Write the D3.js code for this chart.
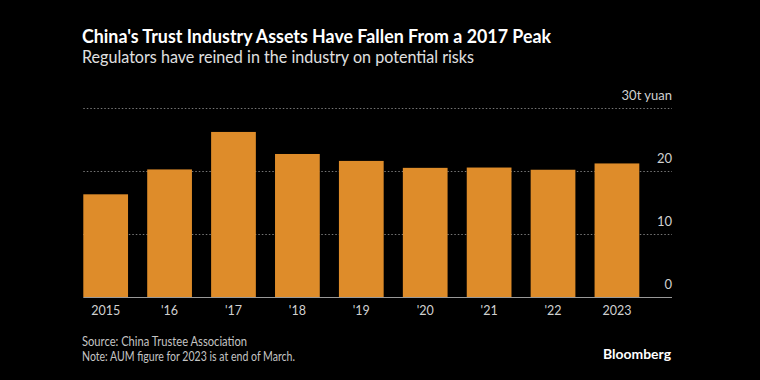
<!DOCTYPE html>
<html><head><meta charset="utf-8">
<script src="https://cdn.jsdelivr.net/npm/d3@7"></script>
<style>
html,body{margin:0;padding:0;background:#000;}
svg{display:block;}
text{font-family:Lato,"Open Sans",sans-serif;}
</style></head>
<body>
<svg id="chart" width="760" height="380"></svg>
<script>
const categories = ["2015","'16","'17","'18","'19","'20","'21","'22","2023"];
const values = [16.3, 20.25, 26.2, 22.7, 21.6, 20.5, 20.55, 20.2, 21.2];
const yTicks = [0, 10, 20, 30];
const yTickLabels = ["0", "10", "20", "30t yuan"];

const svg = d3.select("#chart");
svg.append("rect").attr("width",760).attr("height",380).attr("fill","#000");

const left = 83.3, right = 639.3, gridRight = 672;
const x = d3.scaleBand().domain(categories).range([left, right]).paddingInner(0.3).paddingOuter(0);
const y = d3.scaleLinear().domain([0, 30]).range([297, 108]);

// title
svg.append("text").attr("x",82).attr("y",43).attr("fill","#fff")
  .attr("font-size",18).attr("font-weight",700)
  .attr("textLength",469).attr("lengthAdjust","spacingAndGlyphs")
  .text("China's Trust Industry Assets Have Fallen From a 2017 Peak");
svg.append("text").attr("x",82).attr("y",63).attr("fill","#e0e0e0")
  .attr("font-size",16.5)
  .attr("textLength",392).attr("lengthAdjust","spacingAndGlyphs")
  .text("Regulators have reined in the industry on potential risks");

// gridlines
const grid = svg.append("g");
grid.selectAll("line").data(yTicks.filter(d=>d>0)).join("line")
  .attr("x1",left).attr("x2",gridRight)
  .attr("y1",d=>Math.round(y(d))+0.5).attr("y2",d=>Math.round(y(d))+0.5)
  .attr("stroke","#777").attr("stroke-width",1).attr("stroke-dasharray","1.5,2");

// bars
svg.append("g").selectAll("rect").data(values).join("rect")
  .attr("x",(d,i)=>x(categories[i]))
  .attr("width",x.bandwidth())
  .attr("y",d=>y(d))
  .attr("height",d=>y(0)-y(d))
  .attr("fill","#de8c2a");

// baseline
svg.append("line").attr("x1",left).attr("x2",gridRight)
  .attr("y1",297.5).attr("y2",297.5).attr("stroke","#999").attr("stroke-width",1);

// y labels
svg.append("g").selectAll("text").data(yTicks).join("text")
  .attr("x",gridRight).attr("y",d=>y(d)-8)
  .attr("text-anchor","end").attr("fill","#d0d0d0").attr("font-size",13)
  .text((d,i)=>yTickLabels[i]);

// x labels
svg.append("g").selectAll("text").data(categories).join("text")
  .attr("x",d=>x(d)+x.bandwidth()/2).attr("y",315)
  .attr("text-anchor","middle").attr("fill","#d0d0d0").attr("font-size",12.5)
  .text(d=>d);

// footer
svg.append("text").attr("x",82).attr("y",346).attr("fill","#c4c4c4").attr("font-size",13)
  .attr("textLength",165).attr("lengthAdjust","spacingAndGlyphs")
  .text("Source: China Trustee Association");
svg.append("text").attr("x",82).attr("y",361).attr("fill","#c4c4c4").attr("font-size",13)
  .attr("textLength",213).attr("lengthAdjust","spacingAndGlyphs")
  .text("Note: AUM figure for 2023 is at end of March.");
svg.append("text").attr("x",671).attr("y",359).attr("text-anchor","end").attr("fill","#fff")
  .attr("font-size",14).attr("font-weight",700)
  .attr("textLength",68).attr("lengthAdjust","spacingAndGlyphs").text("Bloomberg");
</script>
</body></html>
